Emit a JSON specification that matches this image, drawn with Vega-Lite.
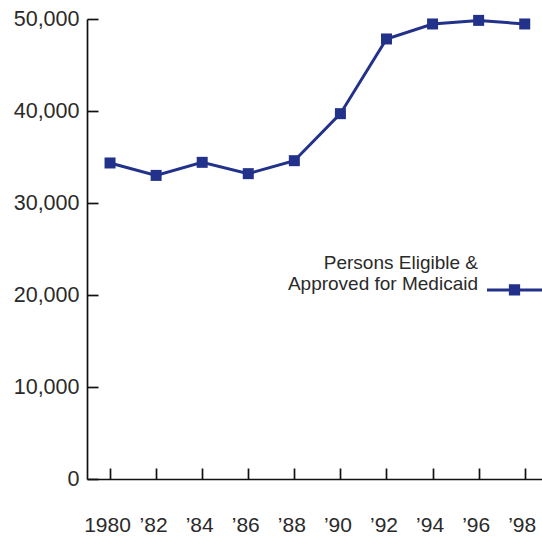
{
  "$schema": "https://vega.github.io/schema/vega-lite/v6.json",
  "width": 455,
  "height": 460,
  "autosize": {"type": "none"},
  "padding": {"left": 87, "top": 19, "right": 0, "bottom": 61},
  "background": "white",
  "config": {"view": {"stroke": null}, "font": "Liberation Sans"},
  "data": {
    "values": [
      {"year": 1980, "persons": 34350, "series": "Persons Eligible & Approved for Medicaid"},
      {"year": 1982, "persons": 33000, "series": "Persons Eligible & Approved for Medicaid"},
      {"year": 1984, "persons": 34420, "series": "Persons Eligible & Approved for Medicaid"},
      {"year": 1986, "persons": 33190, "series": "Persons Eligible & Approved for Medicaid"},
      {"year": 1988, "persons": 34600, "series": "Persons Eligible & Approved for Medicaid"},
      {"year": 1990, "persons": 39710, "series": "Persons Eligible & Approved for Medicaid"},
      {"year": 1992, "persons": 47830, "series": "Persons Eligible & Approved for Medicaid"},
      {"year": 1994, "persons": 49460, "series": "Persons Eligible & Approved for Medicaid"},
      {"year": 1996, "persons": 49850, "series": "Persons Eligible & Approved for Medicaid"},
      {"year": 1998, "persons": 49460, "series": "Persons Eligible & Approved for Medicaid"}
    ]
  },
  "encoding": {
    "x": {
      "field": "year",
      "type": "quantitative",
      "scale": {"domain": [1979, 1998.75], "nice": false, "zero": false},
      "axis": {
        "values": [1980, 1982, 1984, 1986, 1988, 1990, 1992, 1994, 1996, 1998],
        "labelExpr": "datum.value == 1980 ? '1980' : '\u2019' + slice(toString(datum.value), 2)",
        "title": null,
        "grid": false,
        "domainColor": "#111111",
        "domainWidth": 1.7,
        "tickColor": "#111111",
        "tickWidth": 1.7,
        "tickSize": -11,
        "labelPadding": 46.5,
        "labelOffset": -3,
        "labelFontSize": 21,
        "labelColor": "#2a2a2a",
        "labelFont": "Liberation Sans",
        "labelFlush": false,
        "labelOverlap": false,
        "labelBound": false
      }
    },
    "y": {
      "field": "persons",
      "type": "quantitative",
      "scale": {"domain": [0, 50000], "nice": false},
      "axis": {
        "values": [0, 10000, 20000, 30000, 40000, 50000],
        "format": ",d",
        "title": null,
        "grid": false,
        "domainColor": "#111111",
        "domainWidth": 1.7,
        "tickColor": "#111111",
        "tickWidth": 1.7,
        "tickSize": -11,
        "labelPadding": 19,
        "labelFontSize": 21.5,
        "labelColor": "#2a2a2a",
        "labelFont": "Liberation Sans",
        "labelFlush": false,
        "labelOverlap": false
      }
    }
  },
  "layer": [
    {"mark": {"type": "line", "color": "#22318a", "strokeWidth": 3}},
    {
      "mark": {"type": "point", "shape": "square", "filled": true, "size": 121, "opacity": 1},
      "encoding": {
        "color": {
          "field": "series",
          "type": "nominal",
          "scale": {"range": ["#22318a"]},
          "legend": {
            "title": null,
            "orient": "none",
            "legendX": 398.5,
            "legendY": 221.2,
            "padding": 0,
            "symbolType": "M-1,0.753H1M-0.15,0.603H0.15V0.903H-0.15Z",
            "symbolSize": 3025,
            "symbolStrokeWidth": 3,
            "symbolStrokeColor": "#22318a",
            "symbolFillColor": "#22318a",
            "labelAlign": "right",
            "labelBaseline": "alphabetic",
            "labelOffset": -65.5,
            "labelFontSize": 19,
            "labelLimit": 0,
            "labelColor": "#2a2a2a",
            "labelFont": "Liberation Sans",
            "labelExpr": "[slice(datum.label, 0, 18), slice(datum.label, 19)]",
            "encode": {
              "symbols": {"stroke": {"value": "#22318a"}, "strokeWidth": {"value": 3}, "fill": {"value": "#22318a"}, "opacity": {"value": 1}},
              "labels": {"lineHeight": {"value": 23.4}}
            }
          }
        }
      }
    }
  ]
}
